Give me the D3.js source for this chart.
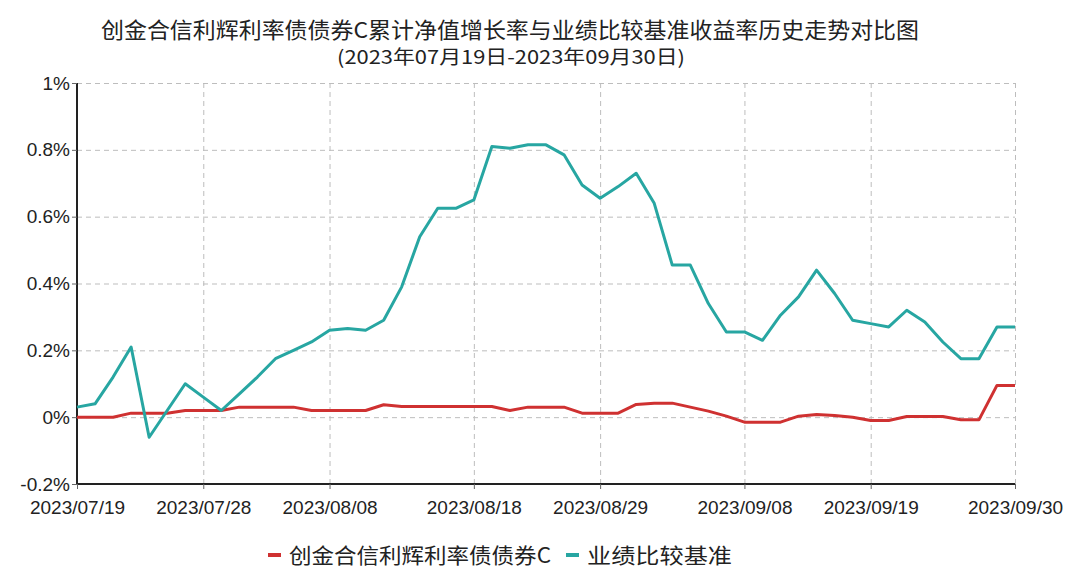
<!DOCTYPE html>
<html>
  <head>
    <meta http-equiv="Content-type" content="text/html; charset=utf-8"/>
    <title>累计净值增长率与业绩比较基准收益率</title>
    <script src="https://cdn.jsdelivr.net/npm/d3@7"></script>
    <style>
      body{
        margin: 0;
        background: #fff;
      }
      svg text{
        font-family: "Liberation Sans", "Noto Sans CJK SC", sans-serif;
        fill: #222;
      }
      .cjk{
        font-family: "Noto Sans CJK SC", "Liberation Sans", sans-serif;
      }
    </style>
  </head>
  <body>
    <svg width="1067" height="569"></svg>
    <script lang="js">
      // trading days shown on the chart
      var dates = [
        "2023/07/19","2023/07/20","2023/07/21","2023/07/24","2023/07/25","2023/07/26","2023/07/27","2023/07/28","2023/07/31",
        "2023/08/01","2023/08/02","2023/08/03","2023/08/04","2023/08/07","2023/08/08","2023/08/09","2023/08/10","2023/08/11",
        "2023/08/14","2023/08/15","2023/08/16","2023/08/17","2023/08/18","2023/08/21","2023/08/22","2023/08/23","2023/08/24",
        "2023/08/25","2023/08/28","2023/08/29","2023/08/30","2023/08/31","2023/09/01","2023/09/04","2023/09/05","2023/09/06",
        "2023/09/07","2023/09/08","2023/09/11","2023/09/12","2023/09/13","2023/09/14","2023/09/15","2023/09/18","2023/09/19",
        "2023/09/20","2023/09/21","2023/09/22","2023/09/25","2023/09/26","2023/09/27","2023/09/28","2023/09/30"
      ];

      // 创金合信利辉利率债债券C (%)
      var fundValues = [
        0, 0, 0, 0.012, 0.012, 0.012, 0.02, 0.02, 0.02,
        0.03, 0.03, 0.03, 0.03, 0.02, 0.02, 0.02, 0.02, 0.037,
        0.032, 0.032, 0.032, 0.032, 0.032, 0.032, 0.02, 0.03, 0.03,
        0.03, 0.012, 0.012, 0.012, 0.038, 0.042, 0.042, 0.03, 0.018,
        0.003, -0.015, -0.015, -0.015, 0.003, 0.008, 0.005, 0.0, -0.01,
        -0.01, 0.002, 0.002, 0.002, -0.008, -0.008, 0.095, 0.095
      ];

      // 业绩比较基准 (%)
      var benchValues = [
        0.03, 0.04, 0.12, 0.21, -0.06, 0.02, 0.10, 0.06, 0.02,
        0.07, 0.12, 0.175, 0.20, 0.225, 0.26, 0.265, 0.26, 0.29,
        0.39, 0.54, 0.625, 0.625, 0.65, 0.81, 0.805, 0.815, 0.815,
        0.785, 0.695, 0.655, 0.69, 0.73, 0.64, 0.455, 0.455, 0.34,
        0.255, 0.255, 0.23, 0.305, 0.36, 0.44, 0.37, 0.29, 0.28,
        0.27, 0.32, 0.285, 0.225, 0.175, 0.175, 0.27, 0.27
      ];

      var xTickLabels = ["2023/07/19","2023/07/28","2023/08/08","2023/08/18","2023/08/29","2023/09/08","2023/09/19","2023/09/30"];
      var yTickValues = [-0.2, 0, 0.2, 0.4, 0.6, 0.8, 1];

      var seriesNames = ["创金合信利辉利率债债券C", "业绩比较基准"];
      var seriesColors = ["#cf3131", "#27a6a2"];

      var titleText = "创金合信利辉利率债债券C累计净值增长率与业绩比较基准收益率历史走势对比图";
      var subtitleText = "(2023年07月19日-2023年09月30日)";

      var svg = d3.select("svg"),
          margin = {top: 83, right: 52, bottom: 85, left: 77},
          width = +svg.attr("width") - margin.left - margin.right,
          height = +svg.attr("height") - margin.top - margin.bottom,
          g = svg.append("g").attr("transform", "translate(" + margin.left + "," + margin.top + ")");

      var x = d3.scaleLinear()
          .domain([0, dates.length - 1])
          .range([0, width]);

      var y = d3.scaleLinear()
          .domain([-0.2, 1])
          .range([height, 0]);

      var xTickIdx = xTickLabels.map(function(d) { return dates.indexOf(d); });

      // grid
      g.append("g")
          .selectAll("line")
          .data(yTickValues.filter(function(d) { return d !== -0.2; }))
          .enter().append("line")
          .attr("x1", 0)
          .attr("x2", width)
          .attr("y1", function(d) { return y(d) + 0.5; })
          .attr("y2", function(d) { return y(d) + 0.5; })
          .attr("stroke", "#bdbdbd")
          .attr("stroke-dasharray", "5,4");

      g.append("g")
          .selectAll("line")
          .data(xTickIdx.filter(function(d) { return d !== 0; }))
          .enter().append("line")
          .attr("x1", function(d) { return x(d) + 0.5; })
          .attr("x2", function(d) { return x(d) + 0.5; })
          .attr("y1", 0)
          .attr("y2", height)
          .attr("stroke", "#bdbdbd")
          .attr("stroke-dasharray", "5,4");

      // axes
      var yAxis = g.append("g")
          .call(d3.axisLeft(y)
            .tickValues(yTickValues)
            .tickSize(5)
            .tickPadding(2)
            .tickFormat(function(d) { return d + "%"; }));
      yAxis.select(".domain").attr("stroke", "#222").attr("stroke-width", 2).attr("d", "M0,0V" + height);
      yAxis.selectAll(".tick line").attr("stroke", "#666");
      yAxis.selectAll("text").style("font-size", "19px").attr("fill", "#222");

      var xAxis = g.append("g")
          .attr("transform", "translate(0," + height + ")")
          .call(d3.axisBottom(x)
            .tickValues(xTickIdx)
            .tickSize(5)
            .tickPadding(12)
            .tickFormat(function(d) { return dates[d]; }));
      xAxis.select(".domain").attr("stroke", "#222").attr("stroke-width", 2).attr("d", "M0,0H" + width);
      xAxis.selectAll(".tick line").attr("stroke", "#666");
      xAxis.selectAll("text").style("font-size", "19px").attr("fill", "#222");

      // lines
      var line = d3.line()
          .x(function(d, i) { return x(i); })
          .y(function(d) { return y(d); });

      [fundValues, benchValues].forEach(function(vals, k) {
        g.append("path")
            .datum(vals)
            .attr("fill", "none")
            .attr("stroke", seriesColors[k])
            .attr("stroke-width", 3)
            .attr("stroke-linejoin", "round")
            .attr("d", line);
      });

      // titles
      svg.append("text")
          .attr("class", "cjk")
          .attr("x", 510)
          .attr("y", 38)
          .attr("text-anchor", "middle")
          .attr("textLength", 818)
          .attr("lengthAdjust", "spacingAndGlyphs")
          .style("font-size", "22px")
          .attr("fill", "#111")
          .text(titleText);

      svg.append("text")
          .attr("class", "cjk")
          .attr("x", 511)
          .attr("y", 64)
          .attr("text-anchor", "middle")
          .attr("textLength", 348)
          .attr("lengthAdjust", "spacingAndGlyphs")
          .style("font-size", "19px")
          .attr("fill", "#111")
          .text(subtitleText);

      // legend
      var legend = svg.append("g").attr("transform", "translate(0,555)");
      var legendX = [268, 566];
      var legendW = [262, 145];
      seriesNames.forEach(function(name, k) {
        legend.append("rect")
            .attr("x", legendX[k])
            .attr("y", -2)
            .attr("width", 13)
            .attr("height", 4)
            .attr("fill", seriesColors[k]);
        legend.append("text")
            .attr("class", "cjk")
            .attr("x", legendX[k] + 21)
            .attr("y", 8)
            .attr("textLength", legendW[k])
            .attr("lengthAdjust", "spacingAndGlyphs")
            .style("font-size", "21px")
            .attr("fill", "#111")
            .text(name);
      });
    </script>
  </body>
</html>
